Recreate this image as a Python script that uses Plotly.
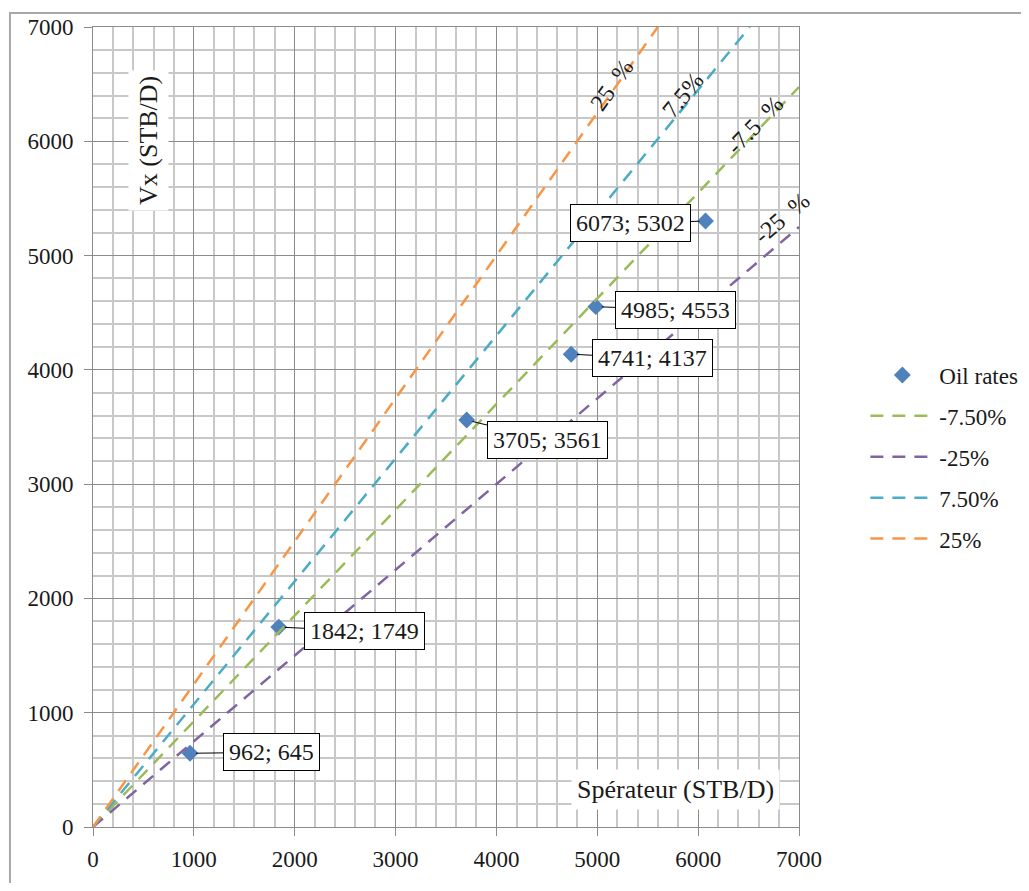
import plotly.graph_objects as go

# Data
oil_x = [962, 1842, 3705, 4741, 4985, 6073]
oil_y = [645, 1749, 3561, 4137, 4553, 5302]
oil_labels = ["962; 645", "1842; 1749", "3705; 3561", "4741; 4137", "4985; 4553", "6073; 5302"]

line_names = ["-7.50%", "-25%", "7.50%", "25%"]
line_x = [[0, 7000], [0, 7000], [0, 6512], [0, 5600]]
line_y = [[0, 6475], [0, 5250], [0, 7000], [0, 7000]]
line_colors = ["#9BBB59", "#8064A2", "#4BACC6", "#F79646"]

line_tags = ["25  %", "7.5%", "-7.5  %", "-25  %"]
tag_x = [5146, 5850, 6564, 6831]
tag_y = [6492, 6405, 6142, 5329]
tag_angle = [-54.8, -50.6, -46.3, -40.4]

# callout offsets (pixels) for labels
call_ax = [81, 86, 81, 81, 80, -75]
call_ay = [-1, 4, 20, 4, 3, 2]

FONT = "Liberation Serif"
TXT = "#1a1a1a"

fig = go.Figure()
fig.add_trace(go.Scatter(
    x=oil_x, y=oil_y, mode="markers", name="Oil rates",
    marker=dict(symbol="diamond", size=13, color="#4F81BD"),
    legendgroup="a"))
for i, nm in enumerate(line_names):
    fig.add_trace(go.Scatter(
        x=line_x[i], y=line_y[i], mode="lines", name=nm,
        line=dict(color=line_colors[i], width=2.5, dash="13px,9px"),
        legendgroup="g%d" % i))

annotations = []
for i in range(len(oil_x)):
    annotations.append(dict(
        x=oil_x[i], y=oil_y[i], xref="x", yref="y", text=oil_labels[i],
        showarrow=True, arrowhead=0, arrowwidth=1, arrowcolor="black",
        ax=call_ax[i], ay=call_ay[i], standoff=6,
        bordercolor="black", borderwidth=1, borderpad=5, bgcolor="white",
        font=dict(family=FONT, size=24, color=TXT)))
for i in range(len(line_tags)):
    annotations.append(dict(
        x=tag_x[i], y=tag_y[i], xref="x", yref="y", text=line_tags[i],
        showarrow=False, textangle=tag_angle[i],
        font=dict(family=FONT, size=24, color=TXT)))
annotations.append(dict(
    x=545, y=6011, xref="x", yref="y", text="Vx (STB/D)", showarrow=False,
    textangle=-90, bgcolor="white", borderpad=5,
    font=dict(family=FONT, size=26, color=TXT)))
annotations.append(dict(
    x=5771, y=332, xref="x", yref="y", text="Spérateur (STB/D)", showarrow=False,
    bgcolor="white", borderpad=5,
    font=dict(family=FONT, size=26, color=TXT)))

axis_common = dict(
    range=[0, 7000], dtick=1000, tick0=0,
    showgrid=True, gridcolor="#8c8c8c", gridwidth=1,
    minor=dict(dtick=200, showgrid=True, gridcolor="#c8c8c8", gridwidth=1.5),
    showline=True, linecolor="#8c8c8c", linewidth=1, mirror=True,
    ticks="outside", ticklen=8, tickcolor="#8c8c8c",
    zeroline=False, automargin=False,
    tickfont=dict(family=FONT, size=23, color=TXT),
)

fig.update_layout(
    width=1013, height=875,
    margin=dict(l=85, r=222, t=19, b=56, autoexpand=False),
    paper_bgcolor="white", plot_bgcolor="white",
    xaxis=dict(**axis_common, ticklabelstandoff=3),
    yaxis=dict(**axis_common, ticklabelstandoff=6),
    showlegend=True,
    legend=dict(x=1.094, y=0.4625, xanchor="left", yanchor="middle",
                font=dict(family=FONT, size=23, color=TXT),
                itemwidth=64, tracegroupgap=8, bgcolor="rgba(0,0,0,0)"),
    annotations=annotations,
    shapes=[dict(type="rect", xref="paper", yref="paper",
                 x0=-0.1176, x1=1.34, y0=-0.1, y1=1.0175,
                 line=dict(color="#a8a8a8", width=2), layer="below")],
)

fig.write_html("out.html")
